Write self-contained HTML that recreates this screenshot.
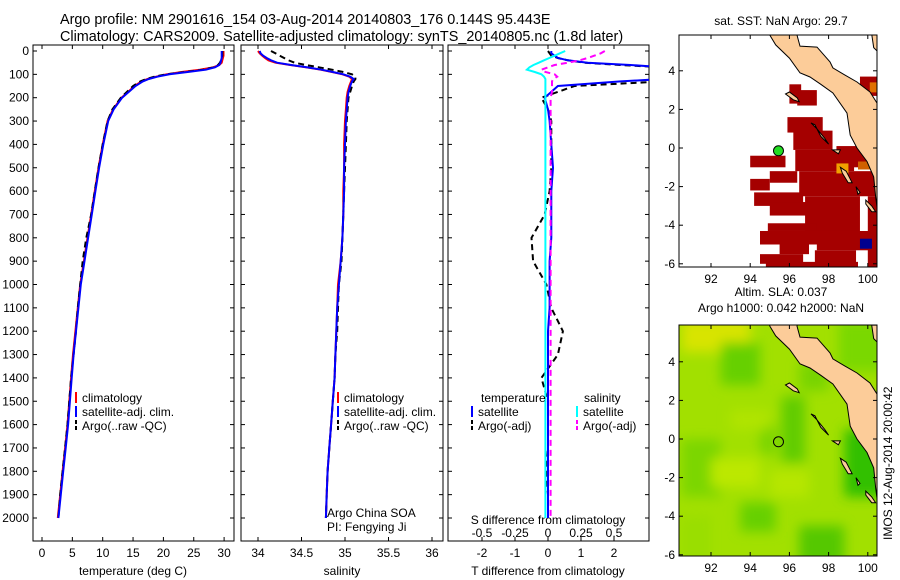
<!DOCTYPE html>
<html><head><meta charset="utf-8"><style>
body{margin:0;background:#fff}
svg{display:block;font-family:"Liberation Sans",sans-serif}
text{font-size:12px;fill:#000}
</style></head><body>
<svg id="c" width="900" height="580" viewBox="0 0 900 580">
<text x="60" y="24" style="font-size:14.4px">Argo profile: NM 2901616_154 03-Aug-2014 20140803_176 0.144S 95.443E</text>
<text x="60" y="41" style="font-size:14.4px">Climatology: CARS2009. Satellite-adjusted climatology: synTS_20140805.nc (1.8d later)</text>
<g id="g"></g>
</svg>
<script>
const depths=[0,10,20,30,40,50,60,70,80,90,100,110,120,130,150,175,200,250,300,400,500,600,700,800,900,1000,1100,1200,1300,1400,1500,1600,1700,1800,1900,2000];
const tClim=[29.9,29.9,29.9,29.8,29.7,29.6,29.2,28.2,26,23,20.5,18.8,17.4,16.4,15.2,14.2,13.1,11.7,10.8,10,9.3,8.7,8.1,7.5,6.9,6.3,5.9,5.5,5.1,4.8,4.5,4.2,3.8,3.4,3.0,2.6];
const tSat=[29.6,29.6,29.6,29.6,29.5,29.4,29.2,28.5,27,24,21,19,17.6,16.6,15.4,14.3,13.2,11.8,10.9,10.1,9.4,8.8,8.2,7.6,7.0,6.4,6.0,5.6,5.2,4.9,4.6,4.3,3.9,3.5,3.1,2.7];
const tArgo=[29.7,29.7,29.7,29.6,29.5,29.3,29.0,28.3,26.5,23.5,20.5,18.5,17.2,16.2,15.0,14.0,13.0,11.6,10.8,10.0,9.3,8.7,8.1,7.3,6.7,6.3,5.9,5.6,5.2,4.8,4.5,4.2,3.8,3.4,3.0,2.7];
const sClim=[34.0,34.02,34.05,34.08,34.12,34.2,34.37,34.55,34.72,34.85,34.97,35.05,35.08,35.07,35.05,35.03,35.02,35.01,35.0,34.99,34.99,34.98,34.98,34.97,34.95,34.92,34.91,34.9,34.89,34.88,34.86,34.84,34.82,34.8,34.79,34.78];
const sSat=[34.02,34.03,34.06,34.1,34.15,34.22,34.38,34.56,34.73,34.86,34.98,35.06,35.1,35.08,35.06,35.04,35.03,35.02,35.01,35.0,34.99,34.99,34.98,34.97,34.95,34.93,34.91,34.9,34.89,34.88,34.86,34.84,34.82,34.8,34.79,34.78];
const sArgo=[34.15,34.2,34.25,34.3,34.35,34.42,34.55,34.7,34.85,34.98,35.08,35.12,35.12,35.1,35.08,35.06,35.04,35.03,35.02,35.01,35.0,34.99,34.98,34.97,34.96,34.93,34.92,34.91,34.89,34.88,34.86,34.84,34.82,34.8,34.79,34.78];
const dTsat=[0.1,0.1,0.2,0.3,0.6,1.2,2.5,3.5,3.5,3.5,3.5,3.5,3.5,2.2,0.3,0.1,-0.1,0.0,0.05,0.1,0.15,0.1,0.1,0.1,0.05,0.05,0.05,0.0,0.0,0.0,0.0,0.0,0.0,0.0,0.0,0.0];
const dTargo=[0.0,0.05,0.1,0.3,0.6,1.1,2.2,3.5,3.5,3.5,3.5,3.5,3.5,3.5,0.8,0.3,-0.2,0.0,0.1,0.1,0.1,0.05,-0.1,-0.5,-0.45,-0.05,0.1,0.45,0.3,-0.2,0.0,0.0,0.0,-0.05,0.0,0.0];
const dSsat=[0.13,0.09,0.05,0.01,-0.03,-0.07,-0.11,-0.14,-0.16,-0.1,-0.05,-0.03,-0.02,-0.02,-0.02,-0.02,-0.02,-0.02,-0.02,-0.02,-0.02,-0.02,-0.02,-0.02,-0.02,-0.02,-0.02,-0.02,-0.02,-0.02,-0.02,-0.02,-0.02,-0.02,-0.02,-0.02];
const dSargo=[0.43,0.4,0.35,0.3,0.24,0.15,0.05,0.0,-0.05,-0.02,0.05,0.07,0.04,0.03,0.03,0.03,0.02,0.02,0.02,0.02,0.02,0.02,0.02,0.02,0.02,0.02,0.02,0.02,0.02,0.02,0.02,0.02,0.02,0.02,0.02,0.02];
const depthTicks=[0,100,200,300,400,500,600,700,800,900,1000,1100,1200,1300,1400,1500,1600,1700,1800,1900,2000];
const tTicks=[0,5,10,15,20,25,30];
const sTicks=[34,34.5,35,35.5,36];
const dTticks=[-2,-1,0,1,2];
const dSticks=["-0.5","-0.25","0","0.25","0.5"];
const lonTicks=[92,94,96,98,100];
const latTicks=[4,2,0,-2,-4,-6];
const argoPos=[95.443,-0.144];

const NS='http://www.w3.org/2000/svg';
const G=document.getElementById('g');
function el(t,a,p){const e=document.createElementNS(NS,t);for(const k in a)e.setAttribute(k,a[k]);(p||G).appendChild(e);return e;}
const yD=d=>51+d*0.2335;
const PT=[33,234],PS=[241,443],PD=[448,649],TOP=45,BOT=541;
const xT=v=>42+v*6.07, xS=v=>258+(v-34)*87, xDT=v=>548+v*33, xDS=v=>548+v*132;
function frame(x0,x1,y0,y1,name){const r=el('rect',{x:x0,y:y0,width:x1-x0,height:y1-y0,fill:'none',stroke:'#000','stroke-width':1});
}
function line(xs,sx,col,w,dash,name,clip){let d='';xs.forEach((v,i)=>{d+=(i?'L':'M')+sx(v).toFixed(1)+','+yD(depths[i]).toFixed(1);});
const p=el('path',{d:d,fill:'none',stroke:col,'stroke-width':w,'stroke-dasharray':dash||'none','clip-path':clip||'none'});
}
function txt(x,y,s,anchor,name,extra){const t=el('text',Object.assign({x:x,y:y,'text-anchor':anchor||'start'},extra||{}));t.textContent=s;
return t;}
const defs=el('defs',{});
[['cp1',PT],['cp2',PS],['cp3',PD]].forEach(([id,p])=>{const c=el('clipPath',{id:id},defs);el('rect',{x:p[0],y:TOP,width:p[1]-p[0],height:BOT-TOP},c);});
[[PT,'temperature-panel'],[PS,'salinity-panel'],[PD,'difference-panel']].forEach(([p,n])=>{
 frame(p[0],p[1],TOP,BOT,n+'-frame');
 depthTicks.forEach(d=>{el('line',{x1:p[0],x2:p[0]+4,y1:yD(d),y2:yD(d),stroke:'#000'});el('line',{x1:p[1],x2:p[1]-4,y1:yD(d),y2:yD(d),stroke:'#000'});});
});
depthTicks.forEach(d=>txt(29,yD(d)+4,String(d),'end','depth-tick-label'));
tTicks.forEach(v=>{el('line',{x1:xT(v),x2:xT(v),y1:BOT,y2:BOT-4,stroke:'#000'});el('line',{x1:xT(v),x2:xT(v),y1:TOP,y2:TOP+4,stroke:'#000'});txt(xT(v),557,String(v),'middle','temp-tick-label');});
sTicks.forEach(v=>{el('line',{x1:xS(v),x2:xS(v),y1:BOT,y2:BOT-4,stroke:'#000'});el('line',{x1:xS(v),x2:xS(v),y1:TOP,y2:TOP+4,stroke:'#000'});txt(xS(v),557,String(v),'middle','salinity-tick-label');});
dTticks.forEach(v=>{el('line',{x1:xDT(v),x2:xDT(v),y1:BOT,y2:BOT-4,stroke:'#000'});el('line',{x1:xDT(v),x2:xDT(v),y1:TOP,y2:TOP+4,stroke:'#000'});txt(xDT(v),557,String(v),'middle','tdiff-tick-label');});
dSticks.forEach((s,i)=>txt(xDT(dTticks[i]),537,s,'middle','sdiff-tick-label'));
txt(133,575,'temperature (deg C)','middle','temperature-axis-title');
txt(342,575,'salinity','middle','salinity-axis-title');
txt(548,575,'T difference from climatology','middle','tdiff-axis-title');
txt(548,524,'S difference from climatology','middle','sdiff-axis-title');
line(tClim,xT,'#f00',2,null,'temp-climatology','url(#cp1)');
line(tArgo,xT,'#000',2,'6,4','temp-argo','url(#cp1)');
line(tSat,xT,'#00f',2,null,'temp-satellite-clim','url(#cp1)');
line(sClim,xS,'#f00',2,null,'salinity-climatology','url(#cp2)');
line(sArgo,xS,'#000',2,'6,4','salinity-argo','url(#cp2)');
line(sSat,xS,'#00f',2,null,'salinity-satellite-clim','url(#cp2)');
line(dTargo,xDT,'#000',2,'6,4','tdiff-argo','url(#cp3)');
line(dTsat,xDT,'#00f',2,null,'tdiff-satellite','url(#cp3)');
line(dSargo,xDS,'#f0f',2,'6,4','sdiff-argo','url(#cp3)');
line(dSsat,xDS,'#0ff',2,null,'sdiff-satellite','url(#cp3)');
function leg(x,y,col,dash,s,name){const l=el('line',{x1:x,x2:x,y1:y-10,y2:y+1,stroke:col,'stroke-width':2,'stroke-dasharray':dash||'none'});
txt(x+6,y,s,'start',name);}
[[76,'climatology-legend'],[338,'salinity-legend']].forEach(([x,n])=>{
 leg(x,402,'#f00',null,'climatology',n+'-climatology');leg(x,416,'#00f',null,'satellite-adj. clim.',n+'-satellite');leg(x,430,'#000','4,2','Argo(..raw -QC)',n+'-argo');});
txt(481,402,'temperature','start','legend-temperature-header');txt(584,402,'salinity','start','legend-salinity-header');
leg(472,416,'#00f',null,'satellite','legend-t-satellite');leg(472,430,'#000','4,2','Argo(-adj)','legend-t-argo');
leg(577,416,'#0ff',null,'satellite','legend-s-satellite');leg(577,430,'#f0f','4,2','Argo(-adj)','legend-s-argo');
txt(327,517,'Argo China SOA','start','argo-agency');txt(327,531,'PI: Fengying Ji','start','argo-pi');
// maps
const M1={x0:679,x1:877,y0:35,y1:267,lat0:148},M2={x0:679,x1:877,y0:325,y1:556,lat0:439};
const mx=lon=>711+(lon-92)*19.6;
function my(M,lat){return M.lat0-lat*19.3;}
const land=[[94.95,6.2],[95.0,5.85],[95.3,5.34],[96.0,4.66],[96.54,3.89],[97.05,3.68],[97.6,3.3],[98.22,2.85],[98.94,1.81],[99.1,0.67],[99.45,0],[99.96,-0.7],[100.3,-1.5],[100.4,-2.5],[100.5,-3.3],[100.8,-3.3],[100.8,2.1],[100.6,2.12],[100.11,2.9],[99.45,3.42],[98.8,3.8],[98.22,4.15],[98.07,4.46],[97.41,5.23],[96.54,5.28],[96.39,5.85],[96.45,6.2]];
const islands=[[[95.8,2.8],[96.2,2.5],[96.5,2.4],[96.4,2.6],[96,2.9]],[[97.1,1.3],[97.4,1.0],[97.8,0.5],[98.0,0.2],[97.6,0.6],[97.3,1.2]],[[98.2,-0.1],[98.5,-0.3],[98.6,-0.1]],[[98.6,-1.0],[98.9,-1.2],[99.2,-1.8],[99.0,-1.8],[98.7,-1.3]],[[99.4,-2.0],[99.6,-2.3],[99.5,-2.4]],[[99.9,-2.7],[100.2,-3.0],[100.4,-3.3],[100.2,-3.3],[99.9,-2.9]],[[100.2,5.9],[100.5,5.9],[100.5,5.0],[100.3,5.2]]];
const sstRects=[[99.6,3.7,100.5,2.7],[96,3.3,96.6,2.3],[96.4,3.0,97.4,2.2],[95.9,1.6,97.7,0.8],[96.2,0.9,98.2,-0.1],[98.4,0.1,100.2,-1.0],[96.3,-0.1,99.3,-1.2],[94,-0.4,95.8,-1.0],[95,-1.2,96.4,-1.8],[94,-1.6,95,-2.2],[96.5,-1.2,100.5,-2.5],[94.2,-2.3,96.7,-3.0],[95,-2.8,97.2,-3.5],[96.8,-2.5,99.6,-4.4],[94.9,-3.9,97.4,-4.3],[94.5,-4.3,97.8,-5.0],[97.4,-4.3,100.5,-5.3],[95.5,-5.0,97,-5.5],[94.5,-5.5,96.7,-6.0],[97.3,-5.3,99.4,-6.0],[94.8,-5.9,99.5,-6.3],[100,-2.5,100.5,-6.3]];
function mapFrame(M,name){
 const c=el('clipPath',{id:name+'-clip'},defs);el('rect',{x:M.x0,y:M.y0,width:M.x1-M.x0,height:M.y1-M.y0},c);
 frame(M.x0,M.x1,M.y0,M.y1,name+'-frame');
 lonTicks.forEach(v=>{el('line',{x1:mx(v),x2:mx(v),y1:M.y1,y2:M.y1-4,stroke:'#000'});el('line',{x1:mx(v),x2:mx(v),y1:M.y0,y2:M.y0+4,stroke:'#000'});txt(mx(v),M.y1+16,String(v),'middle',name+'-lon-label');});
 latTicks.forEach(v=>{el('line',{x1:M.x0,x2:M.x0+4,y1:my(M,v),y2:my(M,v),stroke:'#000'});el('line',{x1:M.x1,x2:M.x1-4,y1:my(M,v),y2:my(M,v),stroke:'#000'});txt(M.x0-4,my(M,v)+4,String(v),'end',name+'-lat-label');});
}
function drawLand(M,g){const pts=p=>p.map(q=>mx(q[0]).toFixed(1)+','+my(M,q[1]).toFixed(1)).join(' ');
 const l=el('polygon',{points:pts(land),fill:'#fccc99',stroke:'#000','stroke-width':1},g);
 islands.forEach(is=>{const p=el('polygon',{points:pts(is),fill:'#fccc99',stroke:'#000','stroke-width':1},g);});}
const g1=el('g',{'clip-path':'url(#map1-clip)'});
mapFrame(M1,'map1');
sstRects.forEach(r=>{const e=el('rect',{x:mx(r[0]),y:my(M1,r[1]),width:mx(r[2])-mx(r[0]),height:my(M1,r[3])-my(M1,r[1]),fill:'#a50000'},g1);
});
el('rect',{x:mx(99.6),y:my(M1,-4.7),width:12,height:10,fill:'#00008f'},g1);
el('rect',{x:mx(98.4),y:my(M1,-0.8),width:12,height:10,fill:'#f0a000'},g1);
el('rect',{x:mx(99.5),y:my(M1,-0.7),width:16,height:8,fill:'#d06000'},g1);
el('rect',{x:mx(100.1),y:my(M1,3.4),width:8,height:10,fill:'#e07000'},g1);
drawLand(M1,g1);
const d1=el('circle',{cx:mx(argoPos[0]),cy:my(M1,argoPos[1]),r:5,fill:'#22dd22',stroke:'#000'});

txt(781,25,'sat. SST: NaN Argo: 29.7','middle','map1-title');
const g2=el('g',{'clip-path':'url(#map2-clip)'});
const bg=el('rect',{x:M2.x0,y:M2.y0,width:M2.x1-M2.x0,height:M2.y1-M2.y0,fill:'#a2e000'},g2);

const fl=el('filter',{id:'blur'},defs);el('feGaussianBlur',{stdDeviation:6},fl);
const gb=el('g',{filter:'url(#blur)'},g2);
[[90.5,6.2,94,4.5,'#d8e400'],[92.5,5,94.5,2.8,'#66d000'],[95.6,2.2,96.8,-1.2,'#60cc00'],[93.5,-3.3,95.3,-4.8,'#66d000'],[96.5,-4.5,98.8,-6.5,'#55c800'],[98.8,0.5,101,-3,'#30c000'],[90.5,0,92.5,-3,'#7cd600'],[96.5,4,98,2.5,'#78d400'],[94.5,0.8,95.3,-0.8,'#78d400'],[90.5,-4,92,-6.5,'#9ade00'],[92,-1,94.5,-2.5,'#bce800'],[95,-1.6,97,-3,'#b6e600'],[93,1.5,95,0.5,'#b0e400'],[98.5,6.2,101,3.5,'#7ad800']].forEach(r=>el('rect',{x:mx(r[0]),y:my(M2,r[1]),width:mx(r[2])-mx(r[0]),height:my(M2,r[3])-my(M2,r[1]),fill:r[4]},gb));
drawLand(M2,g2);
mapFrame(M2,'map2');
const d2=el('circle',{cx:mx(argoPos[0]),cy:my(M2,argoPos[1]),r:5,fill:'none',stroke:'#000'});

txt(781,296,'Altim. SLA: 0.037','middle','map2-title-1');
txt(781,312,'Argo h1000: 0.042 h2000: NaN','middle','map2-title-2');
txt(892,540,'IMOS 12-Aug-2014 20:00:42','start','timestamp',{transform:'rotate(-90 892 540)'});
</script>
</body></html>
